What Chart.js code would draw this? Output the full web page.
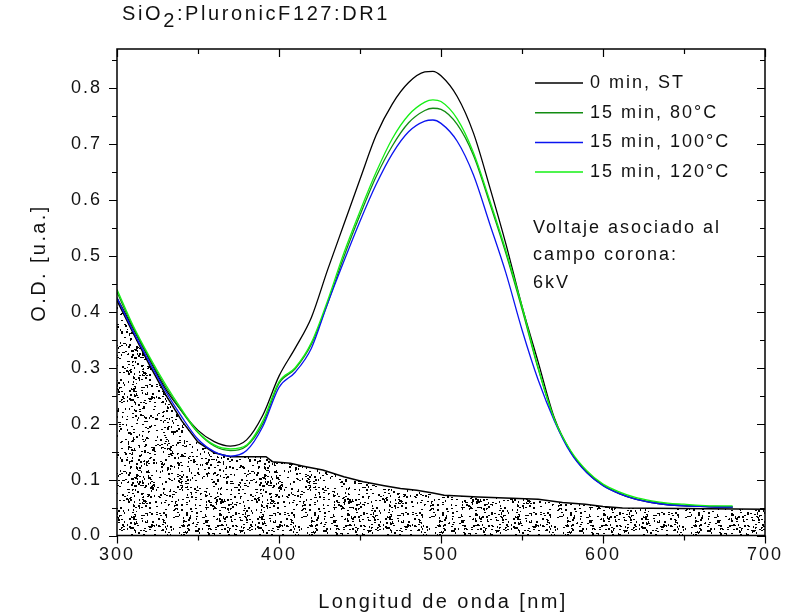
<!DOCTYPE html>
<html>
<head>
<meta charset="utf-8">
<script src="https://cdn.jsdelivr.net/npm/chart.js@4.4.1/dist/chart.umd.min.js"></script>
<style>
html, body { margin: 0; padding: 0; background: #fff; }
#wrap { position: relative; width: 786px; height: 615px; }
#titre { position: absolute; left: 122px; top: 2px; font: 20px "Liberation Sans", Arial, sans-serif;
         letter-spacing: 2.6px; color: #111; white-space: nowrap; z-index: 2; }
#titre sub { font-size: 20px; vertical-align: -7px; line-height: 0; }
</style>
</head>
<body>
<div id="wrap">
  <div id="titre">SiO<sub>2</sub>:PluronicF127:DR1</div>
  <canvas id="chart" width="786" height="615"></canvas>
</div>
<script>
// Longueurs d'onde communes aux 4 spectres (nm)
const longueurs = [300, 310, 320, 330, 340, 350, 360, 370, 380, 390, 400, 410, 420, 430, 440, 450,
  460, 470, 480, 490, 495, 500, 510, 520, 530, 540, 550, 560, 570, 580, 590, 600, 610, 620, 630,
  640, 650, 660, 670, 680];

const st0 = [0.425, 0.370, 0.315, 0.262, 0.222, 0.188, 0.168, 0.160, 0.171, 0.215, 0.285, 0.335,
  0.390, 0.475, 0.556, 0.637, 0.716, 0.772, 0.810, 0.829, 0.830, 0.822, 0.785, 0.720, 0.624, 0.522,
  0.410, 0.310, 0.210, 0.150, 0.113, 0.090, 0.075, 0.065, 0.059, 0.055, 0.053, 0.052, 0.051, 0.051];

const c80 = [0.435, 0.372, 0.317, 0.266, 0.222, 0.184, 0.160, 0.152, 0.160, 0.200, 0.272, 0.298,
  0.342, 0.415, 0.498, 0.573, 0.642, 0.697, 0.738, 0.760, 0.764, 0.762, 0.735, 0.680, 0.595, 0.505,
  0.405, 0.298, 0.207, 0.150, 0.114, 0.090, 0.076, 0.066, 0.060, 0.056, 0.054, 0.052, 0.052, 0.051];

const c100 = [0.425, 0.365, 0.310, 0.258, 0.212, 0.172, 0.150, 0.142, 0.152, 0.195, 0.265, 0.292,
  0.335, 0.415, 0.490, 0.562, 0.628, 0.683, 0.722, 0.741, 0.743, 0.737, 0.705, 0.645, 0.558, 0.470,
  0.368, 0.278, 0.205, 0.148, 0.112, 0.089, 0.075, 0.065, 0.059, 0.055, 0.053, 0.052, 0.051, 0.051];

const c120 = [0.440, 0.375, 0.320, 0.270, 0.225, 0.185, 0.162, 0.155, 0.162, 0.205, 0.275, 0.300,
  0.345, 0.420, 0.505, 0.580, 0.650, 0.710, 0.752, 0.775, 0.779, 0.776, 0.745, 0.685, 0.600, 0.510,
  0.410, 0.300, 0.208, 0.152, 0.116, 0.092, 0.078, 0.068, 0.062, 0.058, 0.056, 0.054, 0.053, 0.053];

// Contour du substrat (zone pointillée)
const substratX = [300, 310, 320, 330, 340, 350, 360, 370, 392, 396, 407, 415, 427, 440, 452, 465,
  475, 485, 495, 502, 523, 560, 575, 589, 600, 612, 700];
const substratY = [0.420, 0.362, 0.305, 0.252, 0.205, 0.167, 0.148, 0.141, 0.141, 0.132, 0.129,
  0.124, 0.117, 0.105, 0.096, 0.089, 0.084, 0.081, 0.076, 0.072, 0.069, 0.065, 0.059, 0.056, 0.052,
  0.049, 0.047];

const etiquettes = ['0 min, ST', '15 min, 80°C', '15 min, 100°C', '15 min, 120°C'];
const couleurs = ['#000000', '#128c12', '#0a14f0', '#14f014'];
const note = ['Voltaje asociado al', 'campo corona:', '6kV'];
const titreX = 'Longitud de onda [nm]';
const titreY = 'O.D. [u.a.]';

const famille = '"Liberation Sans", Arial, sans-serif';

function points(xs, ys) {
  return xs.map((x, i) => ({ x: x, y: ys[i] }));
}

// Motif pointillé (déterministe)
function motifPointille(ctx) {
  const c = document.createElement('canvas');
  c.width = 128; c.height = 128;
  const g = c.getContext('2d');
  g.fillStyle = '#fff';
  g.fillRect(0, 0, 128, 128);
  g.fillStyle = '#000';
  let s = 2463534242;
  const next = () => { s ^= s << 13; s ^= s >>> 17; s ^= s << 5; return (s >>> 0) / 4294967296; };
  for (let i = 0; i < 1150; i++) {
    const x = Math.floor(next() * 128), y = Math.floor(next() * 128), k = next();
    if (k < 0.5) g.fillRect(x, y, 2, 1);
    else if (k < 0.8) g.fillRect(x, y, 1, 2);
    else g.fillRect(x, y, 2, 2);
  }
  return ctx.createPattern(c, 'repeat');
}

const canvas = document.getElementById('chart');
const motif = motifPointille(canvas.getContext('2d'));

// Cadre, graduations, légende, note et titres d'axes
const cadre = {
  id: 'cadre',
  beforeUpdate(chart) { chart.ctx.letterSpacing = '2px'; },
  beforeDraw(chart) { chart.ctx.letterSpacing = '2px'; },
  afterDraw(chart) {
    const ctx = chart.ctx, a = chart.chartArea;
    const xs = chart.scales.x, ys = chart.scales.y;
    ctx.save();
    ctx.strokeStyle = '#000';
    ctx.lineWidth = 1.5;
    ctx.strokeRect(a.left, a.top, a.right - a.left, a.bottom - a.top);
    ctx.lineWidth = 1.2;
    ctx.beginPath();
    for (let v = 300; v <= 700; v += 50) {
      const px = Math.round(xs.getPixelForValue(v)) + 0.5;
      const l = v % 100 === 0 ? 8 : 5;
      ctx.moveTo(px, a.bottom); ctx.lineTo(px, a.bottom + l);
      ctx.moveTo(px, a.top); ctx.lineTo(px, a.top + l);
    }
    for (let i = 0; i <= 17; i++) {
      const py = Math.round(ys.getPixelForValue(i * 0.05)) + 0.5;
      const l = i % 2 === 0 ? 8 : 5;
      ctx.moveTo(a.left, py); ctx.lineTo(a.left - l, py);
      ctx.moveTo(a.right, py); ctx.lineTo(a.right - l, py);
    }
    ctx.stroke();

    ctx.font = '18px ' + famille;
    ctx.letterSpacing = '2px';
    ctx.fillStyle = '#111';
    ctx.textBaseline = 'middle';
    ctx.textAlign = 'left';
    // légende
    etiquettes.forEach((t, i) => {
      const y = 83 + i * 29.7;
      ctx.strokeStyle = couleurs[i];
      ctx.lineWidth = 1.5;
      ctx.beginPath();
      ctx.moveTo(535, y); ctx.lineTo(583, y);
      ctx.stroke();
      ctx.fillText(t, 590, y);
    });
    // note
    note.forEach((t, i) => ctx.fillText(t, 533, 228 + i * 27.5));
    // titres des axes
    ctx.font = '20px ' + famille;
    ctx.letterSpacing = '2.4px';
    ctx.textAlign = 'center';
    ctx.fillText(titreX, 443, 602);
    ctx.translate(39, 263);
    ctx.rotate(-Math.PI / 2);
    ctx.fillText(titreY, 0, 0);
    ctx.restore();
  }
};

const courbes = [st0, c80, c100, c120];
const ordre = [3, 2, 1, 0];

const datasets = courbes.map((vals, i) => ({
  label: etiquettes[i],
  data: points(longueurs, vals),
  borderColor: couleurs[i],
  borderWidth: 1.3,
  pointRadius: 0,
  cubicInterpolationMode: 'monotone',
  fill: false,
  order: ordre[i]
}));

datasets.push({
  label: 'substrat',
  data: points(substratX, substratY),
  borderColor: '#000',
  borderWidth: 1.5,
  backgroundColor: motif,
  pointRadius: 0,
  tension: 0,
  fill: 'origin',
  order: 5
});

const chart = new Chart(canvas, {
  type: 'line',
  data: { datasets: datasets },
  options: {
    responsive: false,
    animation: false,
    layout: { padding: { top: 49, right: 21, left: 0, bottom: 0 } },
    plugins: { legend: { display: false }, tooltip: { enabled: false } },
    scales: {
      x: {
        type: 'linear',
        min: 300, max: 700,
        grid: { display: false, drawTicks: false },
        border: { display: false },
        ticks: { stepSize: 100, padding: 9, color: '#111', font: { family: famille, size: 18 } },
        afterFit(scale) { scale.height = 79.5; scale.paddingLeft = 0; scale.paddingRight = 0; }
      },
      y: {
        min: 0, max: 0.87,
        grid: { display: false, drawTicks: false },
        border: { display: false },
        ticks: {
          stepSize: 0.1, includeBounds: false, padding: 15, color: '#111',
          font: { family: famille, size: 18 },
          callback: v => v.toFixed(1)
        },
        afterFit(scale) { scale.width = 117; scale.paddingTop = 0; scale.paddingBottom = 0; }
      }
    }
  },
  plugins: [cadre]
});
</script>
</body>
</html>
